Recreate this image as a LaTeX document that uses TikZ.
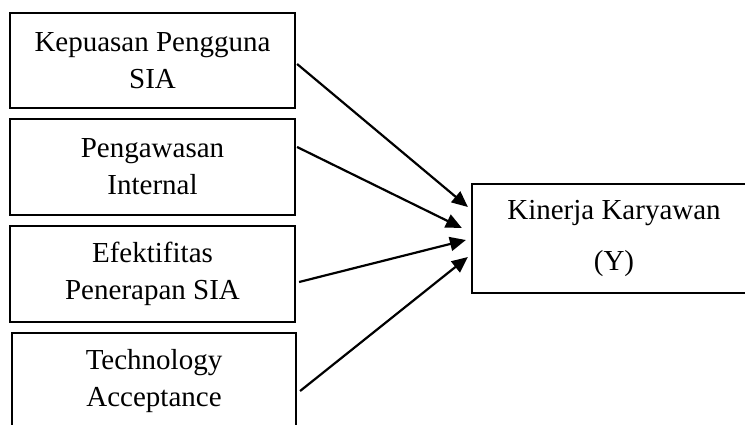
\documentclass[tikz,border=0pt]{standalone}
\usepackage{fontspec}
\setmainfont{Liberation Serif}
\usetikzlibrary{arrows.meta}
\begin{document}
\begin{tikzpicture}[x=1pt,y=-1pt,
  box/.style={draw, line width=2.2pt, rectangle, inner sep=0pt, align=center,
    font=\fontsize{29}{37}\selectfont},
  arr/.style={line width=2.2pt, -{Triangle[length=16pt,width=14pt]}}]
\useasboundingbox (0,0) rectangle (745,424);
\node[box, minimum width=285pt, minimum height=95pt] (b1) at (152.5,60.5) {Kepuasan Pengguna\\SIA};
\node[box, minimum width=285pt, minimum height=96pt] (b2) at (152.5,167) {Pengawasan\\Internal};
\node[box, minimum width=285pt, minimum height=96pt] (b3) at (152.5,274) {Efektifitas\\Penerapan SIA};
\node[box, minimum width=284pt, minimum height=96pt] (b4) at (154,381) {Technology\\Acceptance};
\node[box, minimum width=284pt, minimum height=109pt] (t) at (614,238.5) {Kinerja Karyawan\\[14pt](Y)};
\draw[arr] ([xshift=1pt,yshift=-3.5pt]b1.east) -- ([xshift=-3pt,yshift=31.5pt]t.west);
\draw[arr] ([xshift=1pt,yshift=20pt]b2.east) -- ([xshift=-9pt,yshift=10.5pt]t.west);
\draw[arr] ([xshift=3pt,yshift=-8pt]b3.east) -- ([xshift=-5pt,yshift=-1.5pt]t.west);
\draw[arr] ([xshift=3pt,yshift=-10pt]b4.east) -- ([xshift=-3pt,yshift=-18.5pt]t.west);
\end{tikzpicture}
\end{document}
